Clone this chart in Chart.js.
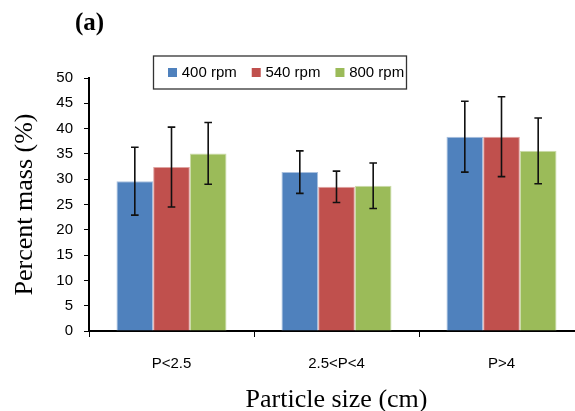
<!DOCTYPE html>
<html>
<head>
<meta charset="utf-8">
<script src="https://cdn.jsdelivr.net/npm/chart.js@4.4.1/dist/chart.umd.min.js"></script>
<style>
  html, body { margin: 0; padding: 0; background: #fff; overflow: hidden; }
  #wrap { position: relative; width: 590px; height: 411px; }
</style>
</head>
<body>
<div id="wrap"><canvas id="c" width="590" height="411"></canvas></div>
<script>
// ---- data ----
const categories = ['P<2.5', '2.5<P<4', 'P>4'];
const seriesNames = ['400 rpm', '540 rpm', '800 rpm'];
const rpm400 = [29.6, 31.4, 38.4];
const rpm540 = [32.4, 28.5, 38.4];
const rpm800 = [35.1, 28.7, 35.6];
const err400 = [6.7, 4.2, 7.0];
const err540 = [7.9, 3.1, 7.9];
const err800 = [6.1, 4.5, 6.5];
const yTicks = { min: 0, max: 50, step: 5 };

const fills = ['#4F81BD', '#C0504D', '#9BBB59'];
const edges = ['#A9C0DE', '#DFA3A1', '#CCDCAA'];
const sans = "'Liberation Sans', Arial, sans-serif";
const serif = "'Liberation Serif', 'Times New Roman', serif";

const values = [rpm400, rpm540, rpm800];
const errors = [err400, err540, err800];

const errorBars = {
  id: 'errorBars',
  afterDatasetsDraw(chart) {
    const ctx = chart.ctx;
    const y = chart.scales.y;
    ctx.save();
    ctx.strokeStyle = '#111';
    ctx.lineWidth = 1.6;
    chart.data.datasets.forEach((ds, i) => {
      const meta = chart.getDatasetMeta(i);
      meta.data.forEach((bar, j) => {
        const v = ds.data[j], e = ds.errors[j];
        const top = y.getPixelForValue(v + e);
        const bot = y.getPixelForValue(v - e);
        const x = bar.x, hw = 3.8;
        ctx.beginPath();
        ctx.moveTo(x, top); ctx.lineTo(x, bot);
        ctx.moveTo(x - hw, top); ctx.lineTo(x + hw, top);
        ctx.moveTo(x - hw, bot); ctx.lineTo(x + hw, bot);
        ctx.stroke();
      });
    });
    ctx.restore();
  }
};

const boxLegend = {
  id: 'boxLegend',
  afterDraw(chart, args, opts) {
    const ctx = chart.ctx;
    ctx.save();
    ctx.fillStyle = '#fff';
    ctx.fillRect(opts.x, opts.y, opts.w, opts.h);
    ctx.strokeStyle = '#333';
    ctx.lineWidth = 1.3;
    ctx.strokeRect(opts.x, opts.y, opts.w, opts.h);
    ctx.font = '15px ' + sans;
    ctx.textBaseline = 'middle';
    ctx.textAlign = 'left';
    const cy = opts.y + opts.h / 2;
    let x = opts.startX;
    chart.data.datasets.forEach((ds) => {
      ctx.fillStyle = ds.backgroundColor;
      ctx.fillRect(x, cy - 4.5, 9, 9);
      x += 13.7;
      ctx.fillStyle = '#000';
      ctx.fillText(ds.label, x, cy + 0.5);
      x += ctx.measureText(ds.label).width + 15;
    });
    ctx.restore();
  }
};

const panelLabel = {
  id: 'panelLabel',
  afterDraw(chart, args, opts) {
    const ctx = chart.ctx;
    ctx.save();
    ctx.font = 'bold 25px ' + serif;
    ctx.fillStyle = '#000';
    ctx.textAlign = 'center';
    ctx.textBaseline = 'middle';
    ctx.fillText(opts.text, opts.x, opts.y);
    ctx.restore();
  }
};

new Chart(document.getElementById('c'), {
  type: 'bar',
  data: {
    labels: categories,
    datasets: seriesNames.map((name, i) => ({
      label: name,
      data: values[i],
      errors: errors[i],
      backgroundColor: fills[i],
      borderColor: edges[i],
      borderWidth: 1,
      categoryPercentage: 0.667,
      barPercentage: 1.0
    }))
  },
  options: {
    responsive: false,
    animation: false,
    devicePixelRatio: 1,
    layout: { padding: { top: 78, right: 6, bottom: 0, left: 0 } },
    plugins: {
      legend: { display: false },
      tooltip: { enabled: false },
      boxLegend: { x: 153.5, y: 56, w: 253, h: 33, startX: 168 },
      panelLabel: { text: '(a)', x: 89.5, y: 24 }
    },
    scales: {
      x: {
        afterFit: (s) => { s.height = 80; },
        border: { display: true, color: '#000', width: 2 },
        grid: { display: true, drawOnChartArea: false, drawTicks: true, tickLength: 6, color: '#000', tickWidth: 1, offset: true },
        ticks: { color: '#000', font: { family: sans, size: 15 }, padding: 18, maxRotation: 0, autoSkip: false },
        title: { display: true, text: 'Particle size (cm)', color: '#000', font: { family: serif, size: 26, lineHeight: 0.85 }, padding: { top: 0, bottom: 0 } }
      },
      y: {
        min: yTicks.min,
        max: yTicks.max,
        afterFit: (s) => { s.width = 89; },
        border: { display: true, color: '#000', width: 2 },
        grid: { display: true, drawOnChartArea: false, drawTicks: true, tickLength: 5, color: '#000', tickWidth: 1 },
        ticks: { stepSize: yTicks.step, color: '#000', font: { family: sans, size: 15 }, padding: 11 },
        title: { display: true, text: 'Percent mass (%)', color: '#000', font: { family: serif, size: 26, lineHeight: 0.85 }, padding: { top: 14, bottom: 0 } }
      }
    }
  },
  plugins: [errorBars, boxLegend, panelLabel]
});
</script>
</body>
</html>
